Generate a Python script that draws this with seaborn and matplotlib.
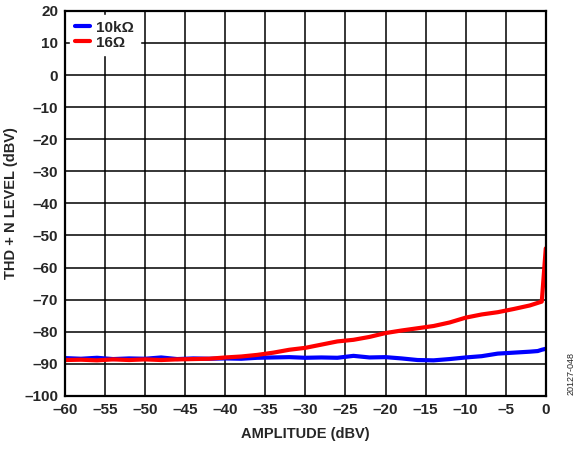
import numpy as np
import pandas as pd
import seaborn as sns
from matplotlib import pyplot as plt

# amplitude (dBV)
amplitude = [-60, -58, -56, -54, -52, -50, -48, -46, -44, -42, -40, -38, -36, -34,
             -32, -30, -28, -26, -24, -22, -20, -18, -16, -14, -12, -10, -8, -6,
             -4, -2, -1, -0.5, 0]
# THD + N level (dBV)
thd_10k = [-88.2, -88.4, -88.1, -88.5, -88.3, -88.4, -88.0, -88.5, -88.3, -88.4, -88.3,
           -88.4, -88.1, -88.0, -87.9, -88.1, -88.0, -88.1, -87.5, -88.0, -87.9, -88.3,
           -88.8, -88.9, -88.5, -88.0, -87.6, -86.8, -86.5, -86.2, -86.0, -85.6, -85.3]
thd_16 = [-88.8, -88.7, -88.9, -88.6, -88.8, -88.6, -88.8, -88.6, -88.5, -88.4, -88.0,
          -87.7, -87.2, -86.5, -85.6, -85.0, -84.0, -83.0, -82.5, -81.6, -80.4, -79.6,
          -78.9, -78.2, -77.1, -75.6, -74.6, -73.9, -72.9, -71.8, -71.0, -70.6, -54.0]

LABELS = ['10kΩ', '16Ω']
COLORS = ['#0000ff', '#ff0000']

df = pd.DataFrame({
    'amplitude': amplitude * 2,
    'level': thd_10k + thd_16,
    'load': [LABELS[0]] * len(amplitude) + [LABELS[1]] * len(amplitude),
})

sns.set_style('white')
plt.rcParams['font.family'] = ['Liberation Sans', 'DejaVu Sans']
plt.rcParams['font.weight'] = 'bold'

fig = plt.figure(figsize=(5.8, 4.51), dpi=100)
ax = fig.add_axes([0.112, 0.122, 0.829, 0.854])

sns.lineplot(data=df, x='amplitude', y='level', hue='load', palette=COLORS,
             linewidth=3, ax=ax, sort=False)

ax.set_xlim(-60, 0)
ax.set_ylim(-100, 20)
xt = np.arange(-60, 1, 5)
yt = np.arange(-100, 21, 10)
ax.set_xticks(xt)
ax.set_yticks(yt)
fmt = lambda v: str(v).replace('-', '–')
ax.set_xticklabels([fmt(v) for v in xt], fontsize=11, fontweight='bold')
ax.set_yticklabels([fmt(v) for v in yt], fontsize=11, fontweight='bold')
ax.tick_params(length=0, pad=5)
ax.grid(True, color='black', linewidth=1.1)
ax.set_axisbelow(True)
for s in ax.spines.values():
    s.set_color('black')
    s.set_linewidth(1.6)

ax.set_xlabel('AMPLITUDE (dBV)', fontsize=10.5, fontweight='bold', labelpad=7)
ax.set_ylabel('THD + N LEVEL (dBV)', fontsize=10.5, fontweight='bold', labelpad=4)

leg = ax.legend(loc='upper left', bbox_to_anchor=(0.0, 1.0), frameon=True,
                fontsize=11, handlelength=1.0, handletextpad=0.4,
                borderaxespad=0.3, labelspacing=0.05, borderpad=0.35)
leg.get_frame().set_edgecolor('white')
leg.get_frame().set_facecolor('white')
leg.get_frame().set_alpha(1.0)
leg.get_frame().set_boxstyle('square', pad=0.0)
for t in leg.get_texts():
    t.set_fontweight('bold')
for h in leg.get_lines():
    h.set_linewidth(3)

fig.text(0.985, 0.125, '20127-048', rotation=90, fontsize=6.5,
         fontweight='normal', ha='center', va='bottom')

fig.savefig('out.png', dpi=100)
